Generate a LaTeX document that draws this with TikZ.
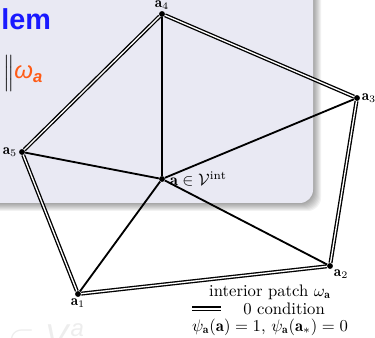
\documentclass[tikz,border=0pt]{standalone}
\usepackage{fontspec}
\setsansfont{Liberation Sans}
\usepackage{amsmath}
\usetikzlibrary{graphs}
\definecolor{slidebg}{RGB}{233,233,243}
\definecolor{titleblue}{RGB}{25,25,255}
\definecolor{alertorange}{RGB}{255,90,20}

\begin{document}
\begin{tikzpicture}[x=0.6pt, y=-0.6pt,
    bdry/.style={double, double distance=0.8pt, line width=0.8pt},
    lbl/.style={font=\small, inner sep=0.8pt}]
    \useasboundingbox (0,0) rectangle (375,338);
    % slide block with its shadow
    \foreach \k in {1,...,8}
        \fill[black, opacity=0.05, rounded corners=8] (-20,-20) rectangle (313+\k,203+\k);
    \fill[slidebg, rounded corners=8] (-20,-20) rectangle (313,203);
    \node[anchor=base west, inner sep=0, text=titleblue, font=\sffamily\bfseries\LARGE] (title) at (1,30) {lem};
    \node[anchor=base west, inner sep=0, font=\large] (norm) at (3,79)
        {$\Big\|$\textcolor{alertorange}{\Large\sffamily\itshape ω$_{\textsf{\bfseries\itshape a}}$}};
    \node[anchor=base west, inner sep=0, text=black!7, font=\sffamily\huge] (faint) at (8,349)
        {$\subset$ \textit{V}$^{\textsf{\itshape a}}$};
      \graph [
    nodes={
        circle,
        fill,
        minimum size=3.5pt,  % small vertex dots
        inner sep=0pt
    },
    empty nodes,
    edges={line width=1.1pt}
]
{
    a1[at={(78,294)},label={[lbl]below:$\mathbf{a}_1$}];
    a2[at={(330,267)},label={[lbl]below right:$\mathbf{a}_2$}];
    a3[at={(357,100)},label={[lbl]right:$\mathbf{a}_3$}];
    a4[at={(162,17)},label={[lbl]above:$\mathbf{a}_4$}];
    a5[at={(22,156)},label={[lbl]left:$\mathbf{a}_5$}];
    a[at={(162,184)},label={[lbl, font=\normalsize, inner sep=2.5pt]right:{$\mathbf{a}\in\mathcal{V}^{\mathrm{int}}$}}];
    a -- {a1, a2, a3, a4, a5};
    a1 --[bdry] a2 --[bdry] a3 --[bdry] a4 --[bdry] a5 --[bdry] a1
};
    % legend
    \node[inner sep=0] (patch) at (270,292) {interior patch $\omega_{\mathbf{a}}$};
    \coordinate (zl) at (192,309);
    \coordinate (zr) at (221,309);
    \draw[double, line width=1.1pt, double distance=0.8pt] (zl) -- (zr);
    \node[anchor=west, inner sep=0] (zero) at (243,309) {0 condition};
    \node[inner sep=0] (basis) at (270,327) {$\psi_{\mathbf{a}}(\mathbf{a})=1$, $\psi_{\mathbf{a}}(\mathbf{a}_*)=0$};
    \end{tikzpicture}
\end{document}
